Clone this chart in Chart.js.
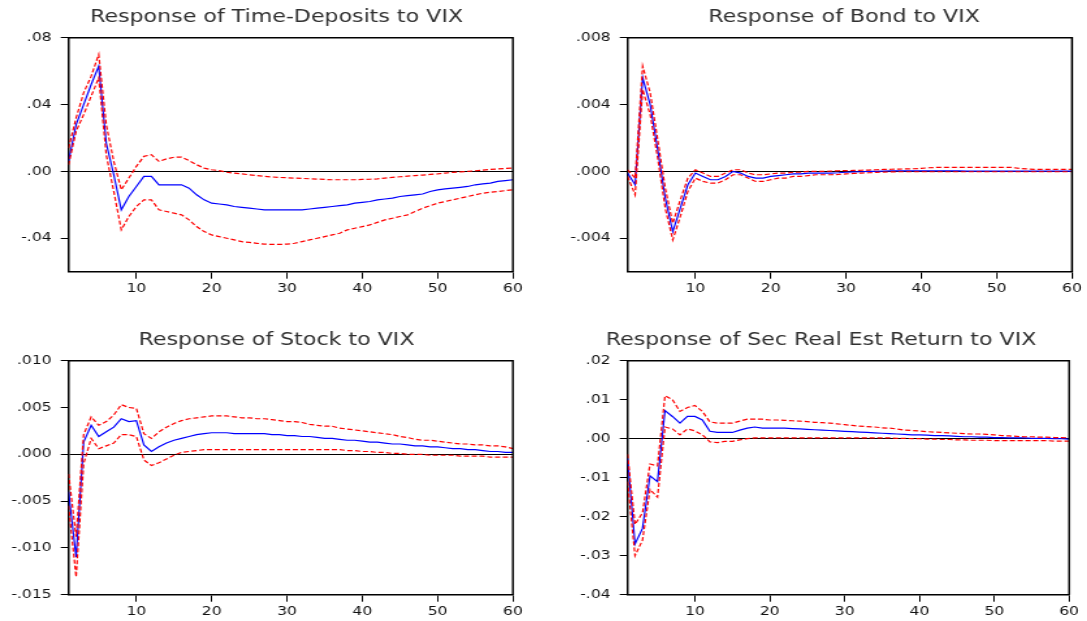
<!DOCTYPE html>
<html>
<head>
<meta charset="utf-8">
<title>Impulse responses to VIX</title>
<script src="https://cdn.jsdelivr.net/npm/chart.js@4.4.1/dist/chart.umd.min.js"></script>
<style>
  html, body { margin: 0; padding: 0; background: #fff; overflow: hidden; }
  #wrap { position: relative; width: 1087px; height: 621px; overflow: hidden; }
  canvas { position: absolute; }
</style>
</head>
<body>
<div id="wrap">
  <canvas id="c1"></canvas>
  <canvas id="c2"></canvas>
  <canvas id="c3"></canvas>
  <canvas id="c4"></canvas>
</div>
<script>
// ---- data ----
const periods = Array.from({ length: 60 }, (_, i) => i + 1);
const xTicks = [10, 20, 30, 40, 50, 60];

const titles = [
    'Response of Time-Deposits to VIX',
    'Response of Bond to VIX',
    'Response of Stock to VIX',
    'Response of Sec Real Est Return to VIX'
];

const tdResp = [0.006, 0.028, 0.040, 0.052, 0.063, 0.017, -0.002, -0.023, -0.015, -0.009,
    -0.003, -0.003, -0.008, -0.008, -0.008, -0.008, -0.010, -0.014, -0.017, -0.019,
    -0.0195, -0.020, -0.021, -0.0215, -0.022, -0.0225, -0.023, -0.023, -0.023, -0.023,
    -0.023, -0.023, -0.0225, -0.022, -0.0215, -0.021, -0.0205, -0.020, -0.019, -0.0185,
    -0.018, -0.017, -0.0165, -0.016, -0.015, -0.0145, -0.014, -0.0135, -0.012, -0.011,
    -0.0105, -0.010, -0.0095, -0.009, -0.008, -0.0075, -0.007, -0.006, -0.0055, -0.005];
const tdUpper = [0.014, 0.032, 0.047, 0.057, 0.070, 0.028, 0.006, -0.011, -0.004, 0.003,
    0.009, 0.010, 0.006, 0.0075, 0.0085, 0.0085, 0.0065, 0.004, 0.002, 0.001,
    0.0005, -0.0005, -0.001, -0.0015, -0.002, -0.0025, -0.003, -0.0033, -0.0036, -0.0038,
    -0.004, -0.0042, -0.0044, -0.0046, -0.0048, -0.005, -0.005, -0.005, -0.005, -0.0048,
    -0.0047, -0.0045, -0.004, -0.0036, -0.0032, -0.0028, -0.0025, -0.0022, -0.0018, -0.0015,
    -0.001, -0.0006, -0.0003, 0.0, 0.0004, 0.0008, 0.0012, 0.0015, 0.0018, 0.002];
const tdLower = [0.004, 0.024, 0.034, 0.045, 0.056, 0.010, -0.012, -0.035, -0.027, -0.021,
    -0.017, -0.017, -0.023, -0.024, -0.025, -0.026, -0.029, -0.033, -0.036, -0.038,
    -0.039, -0.040, -0.041, -0.042, -0.0425, -0.043, -0.0435, -0.0437, -0.0437, -0.0435,
    -0.043, -0.042, -0.041, -0.040, -0.039, -0.038, -0.037, -0.035, -0.034, -0.033,
    -0.032, -0.0305, -0.029, -0.028, -0.027, -0.026, -0.024, -0.022, -0.0205, -0.019,
    -0.018, -0.017, -0.016, -0.015, -0.014, -0.013, -0.0125, -0.012, -0.0115, -0.011];

const bondResp = [-0.0001, -0.0008, 0.0056, 0.0040, 0.0013, -0.0016, -0.0036, -0.0022, -0.0008, -0.0001,
    -0.0003, -0.0005, -0.0005, -0.0003, 0.0000, -0.0001, -0.0003, -0.0004, -0.0004, -0.0003,
    -0.00025, -0.0002, -0.00015, -0.00015, -0.0001, -0.0001, -0.0001, -0.0001, -0.00008, -0.00005,
    -0.00003, -0.00002, 0.0, 0.0, 0.00002, 0.00003, 0.00003, 0.00003, 0.00003, 0.00003,
    0.00003, 0.00003, 0.00003, 0.00003, 0.00003, 0.00002, 0.00002, 0.00002, 0.00002, 0.00002,
    0.00002, 0.00002, 0.00002, 0.00002, 0.00002, 0.00002, 0.00002, 0.00002, 0.00002, 0.00002];
const bondUpper = [0.0001, -0.0004, 0.0063, 0.0047, 0.0019, -0.0010, -0.0031, -0.0017, -0.0004, 0.0001,
    -0.0001, -0.0003, -0.0003, -0.0001, 0.0001, 0.0001, -0.0001, -0.0002, -0.0002, -0.00015,
    -0.0001, -0.0001, -0.00005, -0.00005, 0.0, 0.0, 0.0, 0.00002, 0.00004, 0.00005,
    0.00006, 0.00007, 0.00008, 0.0001, 0.00012, 0.00013, 0.00014, 0.00015, 0.00016, 0.00018,
    0.00022, 0.00024, 0.00024, 0.00024, 0.00024, 0.00024, 0.00024, 0.00024, 0.00024, 0.00024,
    0.00024, 0.00024, 0.00018, 0.00015, 0.00012, 0.00012, 0.00012, 0.00012, 0.00012, 0.00012];
const bondLower = [-0.0003, -0.0014, 0.0049, 0.0034, 0.0008, -0.0022, -0.0041, -0.0027, -0.0012, -0.0004,
    -0.0006, -0.0007, -0.0007, -0.0005, -0.0002, -0.0002, -0.0004, -0.0006, -0.0006, -0.0005,
    -0.0004, -0.0004, -0.0003, -0.0003, -0.00025, -0.0002, -0.0002, -0.0002, -0.00018, -0.00015,
    -0.00012, -0.0001, -0.00008, -0.00006, -0.00004, -0.00003, -0.00002, -0.00002, -0.00002, -0.00002,
    -0.00002, -0.00002, -0.00002, -0.00002, -0.00002, -0.00002, -0.00002, -0.00002, -0.00002, -0.00002,
    -0.00002, -0.00002, -0.00002, -0.00002, -0.00002, -0.00002, -0.00002, -0.00002, -0.00002, -0.00002];

const stockResp = [-0.0040, -0.0110, 0.0013, 0.0031, 0.0019, 0.0024, 0.0029, 0.0038, 0.0035, 0.0036,
    0.0010, 0.0003, 0.0008, 0.0012, 0.0015, 0.0017, 0.0019, 0.0021, 0.0022, 0.0023,
    0.0023, 0.0023, 0.0022, 0.0022, 0.0022, 0.0022, 0.0022, 0.0021, 0.0021, 0.0020,
    0.0020, 0.0019, 0.0019, 0.0018, 0.0017, 0.0017, 0.0016, 0.0015, 0.0015, 0.0014,
    0.0013, 0.0013, 0.0012, 0.0011, 0.0011, 0.0010, 0.0009, 0.0009, 0.0008, 0.0008,
    0.0007, 0.0006, 0.0006, 0.0005, 0.0005, 0.0004, 0.0003, 0.0003, 0.0002, 0.0002];
const stockUpper = [-0.0021, -0.0088, 0.0021, 0.0040, 0.0031, 0.0035, 0.0042, 0.0053, 0.0050, 0.0049,
    0.0022, 0.0017, 0.0024, 0.0029, 0.0033, 0.0036, 0.0038, 0.0039, 0.0040, 0.0041,
    0.0041, 0.0041, 0.0040, 0.0039, 0.0039, 0.0038, 0.0038, 0.0037, 0.0036, 0.0035,
    0.0035, 0.0034, 0.0032, 0.0031, 0.0030, 0.0030, 0.0028, 0.0027, 0.0026, 0.0025,
    0.0024, 0.0023, 0.0022, 0.0021, 0.0019, 0.0018, 0.0016, 0.0015, 0.0015, 0.0014,
    0.0013, 0.0012, 0.0011, 0.0011, 0.0010, 0.0010, 0.0009, 0.0009, 0.0008, 0.0006];
const stockLower = [-0.0055, -0.0131, -0.0010, 0.0017, 0.0006, 0.0009, 0.0012, 0.0021, 0.0021, 0.0019,
    -0.0006, -0.0012, -0.0009, -0.0005, -0.0001, 0.0002, 0.0003, 0.0004, 0.0005, 0.0005,
    0.0005, 0.0005, 0.0005, 0.0005, 0.0005, 0.0005, 0.0005, 0.0005, 0.0005, 0.0005,
    0.0005, 0.0005, 0.0005, 0.0005, 0.0005, 0.0005, 0.0005, 0.0004, 0.0004, 0.0003,
    0.0003, 0.0002, 0.0002, 0.0001, 0.0001, 0.0000, 0.0000, 0.0000, -0.0001, -0.0001,
    -0.0001, -0.0001, -0.0002, -0.0002, -0.0002, -0.0002, -0.0003, -0.0003, -0.0003, -0.0003];

const reResp = [-0.005, -0.027, -0.023, -0.0095, -0.011, 0.0072, 0.0057, 0.0040, 0.0057, 0.0057,
    0.0048, 0.0019, 0.0016, 0.0016, 0.0016, 0.0022, 0.0027, 0.0030, 0.0027, 0.0027,
    0.0027, 0.0027, 0.0026, 0.0025, 0.0024, 0.0023, 0.0022, 0.0021, 0.0020, 0.0019,
    0.0018, 0.0017, 0.0016, 0.0015, 0.0014, 0.0013, 0.0012, 0.0011, 0.0010, 0.0010,
    0.0009, 0.0008, 0.0008, 0.0007, 0.0006, 0.0005, 0.0005, 0.0004, 0.0004, 0.0003,
    0.0003, 0.0002, 0.0002, 0.0002, 0.0001, 0.0001, 0.0001, 0.0000, 0.0000, -0.0001];
const reUpper = [-0.004, -0.022, -0.019, -0.0065, -0.007, 0.011, 0.010, 0.007, 0.008, 0.0085,
    0.007, 0.0043, 0.0040, 0.0040, 0.0040, 0.0045, 0.0050, 0.0050, 0.0050, 0.0048,
    0.0048, 0.0047, 0.0046, 0.0045, 0.0044, 0.0042, 0.0041, 0.0040, 0.0038, 0.0036,
    0.0034, 0.0032, 0.0031, 0.0030, 0.0028, 0.0027, 0.0025, 0.0022, 0.0021, 0.0020,
    0.0018, 0.0017, 0.0016, 0.0015, 0.0014, 0.0013, 0.0012, 0.0012, 0.0011, 0.0010,
    0.0008, 0.0007, 0.0006, 0.0005, 0.0005, 0.0004, 0.0004, 0.0003, 0.0003, 0.0002];
const reLower = [-0.011, -0.030, -0.026, -0.013, -0.015, 0.003, 0.0025, 0.001, 0.0025, 0.002,
    0.001, -0.0008, -0.0010, -0.0007, -0.0007, -0.0003, 0.0000, 0.0002, 0.0002, 0.0002,
    0.0002, 0.0002, 0.0002, 0.0002, 0.0002, 0.0002, 0.0002, 0.0002, 0.0002, 0.0002,
    0.0002, 0.0002, 0.0002, 0.0002, 0.0002, 0.0002, 0.0001, 0.0001, 0.0000, 0.0000,
    -0.0001, -0.0001, -0.0002, -0.0002, -0.0003, -0.0003, -0.0004, -0.0004, -0.0004, -0.0005,
    -0.0005, -0.0005, -0.0005, -0.0005, -0.0005, -0.0005, -0.0005, -0.0006, -0.0006, -0.0006];

const yTicks1 = [0.08, 0.04, 0, -0.04];
const yLabels1 = ['.08', '.04', '.00', '-.04'];
const yTicks2 = [0.008, 0.004, 0, -0.004];
const yLabels2 = ['.008', '.004', '.000', '-.004'];
const yTicks3 = [0.010, 0.005, 0, -0.005, -0.010, -0.015];
const yLabels3 = ['.010', '.005', '.000', '-.005', '-.010', '-.015'];
const yTicks4 = [0.02, 0.01, 0, -0.01, -0.02, -0.03, -0.04];
const yLabels4 = ['.02', '.01', '.00', '-.01', '-.02', '-.03', '-.04'];

// ---- drawing ----
// the reference is stretched sideways, so every canvas is drawn narrow and widened by css
const STRETCH = 1.3;
const FONT = 'DejaVu Sans';
const PLOT_LEFT = 52.7;   // internal px, same in every panel
const PLOT_RIGHT = 394.2;

const framePlugin = {
    id: 'frame',
    afterDatasetsDraw(chart) {
        const { ctx, chartArea } = chart;
        ctx.save();
        ctx.strokeStyle = '#000';
        ctx.lineWidth = 1.5;
        ctx.beginPath();
        ctx.moveTo(chartArea.left, chartArea.top);
        ctx.lineTo(chartArea.right, chartArea.top);
        ctx.lineTo(chartArea.right, chartArea.bottom);
        ctx.stroke();
        ctx.restore();
    }
};

const toPoints = (arr) => arr.map((v, i) => ({ x: periods[i], y: v }));

const makePanel = (cfg) => {
    const canvas = document.getElementById(cfg.id);
    canvas.width = cfg.w;
    canvas.height = cfg.h;
    canvas.style.left = cfg.left + 'px';
    canvas.style.top = cfg.top + 'px';
    canvas.style.width = (cfg.w * STRETCH) + 'px';
    canvas.style.height = cfg.h + 'px';

    const band = {
        borderColor: '#ff0000',
        borderWidth: 1.2,
        borderDash: [4, 2],
        pointRadius: 0,
        tension: 0,
        fill: false
    };

    return new Chart(canvas, {
        type: 'line',
        data: {
            datasets: [
                { ...band, label: 'upper', data: toPoints(cfg.upper) },
                { ...band, label: 'lower', data: toPoints(cfg.lower) },
                {
                    label: 'response',
                    data: toPoints(cfg.resp),
                    borderColor: '#0000ff',
                    borderWidth: 1.2,
                    pointRadius: 0,
                    tension: 0,
                    fill: false
                }
            ]
        },
        options: {
            responsive: false,
            animation: false,
            devicePixelRatio: 1,
            layout: { padding: 0 },
            plugins: {
                legend: { display: false },
                tooltip: { enabled: false },
                title: {
                    display: true,
                    text: cfg.title,
                    color: '#303030',
                    font: { family: FONT, size: 17, weight: 'normal' },
                    padding: { top: 7, bottom: 10.3 }
                }
            },
            scales: {
                x: {
                    type: 'linear',
                    min: 1,
                    max: 60,
                    afterBuildTicks: (s) => { s.ticks = xTicks.map(v => ({ value: v })); },
                    afterFit: (s) => { s.height = cfg.h - 271.7; },
                    grid: { drawOnChartArea: false, tickLength: 7, tickColor: '#000', lineWidth: 1 },
                    border: { color: '#000', width: 1.5 },
                    ticks: {
                        color: '#111',
                        font: { family: FONT, size: 12 },
                        padding: 3,
                        maxRotation: 0,
                        autoSkip: false,
                        callback: (v) => String(v)
                    }
                },
                y: {
                    min: cfg.yMin,
                    max: cfg.yMax,
                    afterBuildTicks: (s) => { s.ticks = cfg.yTicks.map(v => ({ value: v })); },
                    afterFit: (s) => { s.width = PLOT_LEFT; },
                    grid: {
                        drawOnChartArea: true,
                        tickLength: 6,
                        tickColor: '#000',
                        lineWidth: 1,
                        color: (c) => (c.tick && Math.abs(c.tick.value) < 1e-12 ? '#000' : 'rgba(0,0,0,0)')
                    },
                    border: { color: '#000', width: 1.5 },
                    ticks: {
                        color: '#111',
                        font: { family: FONT, size: 12 },
                        padding: 7,
                        autoSkip: false,
                        callback: (v, i) => cfg.yLabels[i]
                    }
                },
                // empty spacer on the right, only there to place the title like the reference
                yR: {
                    position: 'right',
                    min: 0,
                    max: 1,
                    ticks: { display: false },
                    grid: { display: false, drawTicks: false },
                    border: { display: false },
                    afterFit: (s) => { s.width = cfg.w - PLOT_RIGHT; }
                }
            }
        },
        plugins: [framePlugin]
    });
};

makePanel({
    id: 'c1', left: 0, top: 0, w: 425, h: 298,
    title: titles[0], resp: tdResp, upper: tdUpper, lower: tdLower,
    yTicks: yTicks1, yLabels: yLabels1, yMin: -0.06, yMax: 0.08
});
makePanel({
    id: 'c2', left: 559.2, top: 0, w: 438, h: 298,
    title: titles[1], resp: bondResp, upper: bondUpper, lower: bondLower,
    yTicks: yTicks2, yLabels: yLabels2, yMin: -0.006, yMax: 0.008
});
makePanel({
    id: 'c3', left: 0, top: 323, w: 425, h: 298,
    title: titles[2], resp: stockResp, upper: stockUpper, lower: stockLower,
    yTicks: yTicks3, yLabels: yLabels3, yMin: -0.015, yMax: 0.010
});
makePanel({
    id: 'c4', left: 559.2, top: 323, w: 403, h: 298,
    title: titles[3], resp: reResp, upper: reUpper, lower: reLower,
    yTicks: yTicks4, yLabels: yLabels4, yMin: -0.04, yMax: 0.02
});
</script>
</body>
</html>
